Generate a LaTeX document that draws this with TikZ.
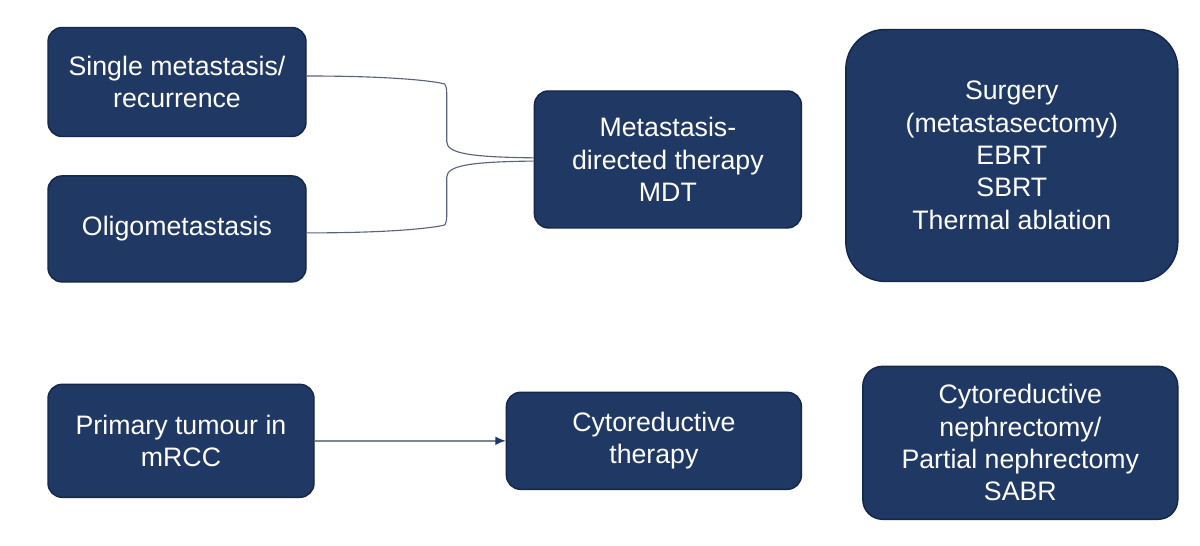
\documentclass[tikz,border=0pt]{standalone}
\usepackage{fontspec}
\setmainfont{Liberation Sans}
\usetikzlibrary{arrows.meta,positioning,calc}
\definecolor{navy}{HTML}{1F3864}
\definecolor{navyedge}{HTML}{14264A}
\definecolor{wire}{HTML}{5A6378}
\definecolor{wiregray}{HTML}{7F8594}
\tikzset{
  every node/.style={font=\fontsize{19}{23}\selectfont},
  navybox/.style={draw=navyedge, fill=navy, text=white, rounded corners=10pt, line width=1pt, align=center},
  bigbox/.style={navybox, rounded corners=28pt},
  brace/.style={draw=wire, line width=0.8pt},
  arrow/.style={-{Latex[length=2.6mm,width=2.2mm,color=navy]}, line width=1.1pt, draw=wiregray},
}
\begin{document}
\begin{tikzpicture}
\useasboundingbox (0,0) rectangle (30,-13.625);
\node[navybox, minimum width=6.45cm, minimum height=2.725cm] (single) at (4.425,-2.05) {Single metastasis/\\recurrence};
\node[navybox, minimum width=6.45cm, minimum height=2.65cm, below=0.95cm of single] (oligo) {Oligometastasis};
\node[navybox, minimum width=6.675cm, minimum height=3.425cm, right=5.675cm of {$(single.east)!0.5!(oligo.east)$}, yshift=-0.1cm] (mdt) {Metastasis-\\directed therapy\\MDT};
\node[bigbox, minimum width=8.3cm, minimum height=6.3cm, right=1.075cm of mdt, yshift=0.1cm] (surgery) {Surgery\\(metastasectomy)\\EBRT\\SBRT\\Thermal ablation};
\node[navybox, minimum width=6.65cm, minimum height=2.825cm, below right=2.525cm and 0cm of oligo.south west] (primary) {Primary tumour in\\mRCC};
\node[navybox, minimum width=7.375cm, minimum height=2.425cm, right=4.775cm of primary] (cyto) {Cytoreductive\\therapy};
\node[navybox, rounded corners=14pt, minimum width=7.875cm, minimum height=3.825cm, right=1.5cm of cyto, yshift=-0.05cm] (nephr) {Cytoreductive\\nephrectomy/\\Partial nephrectomy\\SABR};
% fork into MDT
\coordinate (fork) at ($(mdt.west)+(-2.175,0)$);
\draw[brace] ([yshift=.15cm]single.east) .. controls +(2.6,0) and +(-0.05,0.02) .. ([yshift=-.05cm,xshift=-.05cm]single.east -| fork) to[out=-60,in=90] ([yshift=-.3cm]single.east -| fork) -- ([yshift=.45cm]fork) .. controls +(0,-0.3) and +(-1.6,0.02) .. ([yshift=.04cm]mdt.west);
\draw[brace] ([yshift=-.1cm]oligo.east) .. controls +(2.6,0) and +(-0.05,-0.02) .. ([yshift=.1cm,xshift=-.05cm]oligo.east -| fork) to[out=60,in=-90] ([yshift=.35cm]oligo.east -| fork) -- ([yshift=-.45cm]fork) .. controls +(0,0.3) and +(-1.6,-0.02) .. ([yshift=-.04cm]mdt.west);
\draw[arrow] (primary) -- (cyto);
\end{tikzpicture}
\end{document}
